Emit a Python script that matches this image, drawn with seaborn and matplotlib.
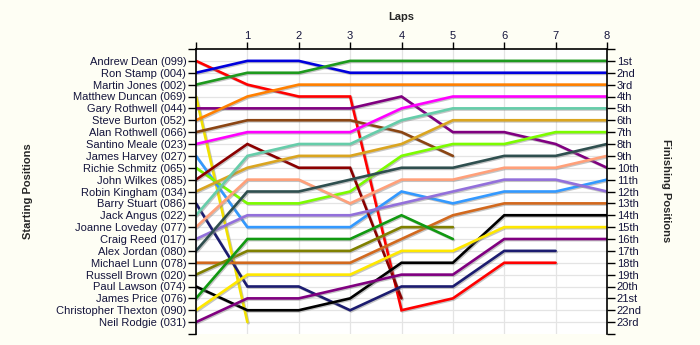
import matplotlib
matplotlib.use("Agg")
import matplotlib.pyplot as plt
import matplotlib.patheffects as pe
import seaborn as sns
import pandas as pd

# ---- data ----
drivers = ["Andrew Dean (099)", "Ron Stamp (004)", "Martin Jones (002)", "Matthew Duncan (069)",
           "Gary Rothwell (044)", "Steve Burton (052)", "Alan Rothwell (066)", "Santino Meale (023)",
           "James Harvey (027)", "Richie Schmitz (065)", "John Wilkes (085)", "Robin Kingham (034)",
           "Barry Stuart (086)", "Jack Angus (022)", "Joanne Loveday (077)", "Craig Reed (017)",
           "Alex Jordan (080)", "Michael Lunn (078)", "Russell Brown (020)", "Paul Lawson (074)",
           "James Price (076)", "Christopher Thexton (090)", "Neil Rodgie (031)"]

dean = [1, 3, 4, 4, 22, 21, 18, 18]
stamp = [2, 1, 1, 2, 2, 2, 2, 2, 2]
jones = [3, 2, 2, 1, 1, 1, 1, 1, 1]
duncan = [4, 23]
g_rothwell = [5, 5, 5, 5, 4, 7, 7, 8, 10]
burton = [6, 4, 3, 3, 3, 3, 3, 3, 3]
a_rothwell = [7, 6, 6, 6, 7, 9]
meale = [8, 7, 7, 7, 5, 4, 4, 4, 4]
harvey = [9, 15, 15, 15, 12, 13, 12, 12, 11]
schmitz = [10, 13, 13, 12, 9, 8, 8, 7, 7]
wilkes = [11, 8, 10, 10, 21]
kingham = [12, 10, 9, 9, 8, 6, 6, 6, 6]
stuart = [13, 20, 20, 22, 20, 20, 17, 17]
angus = [14, 9, 8, 8, 6, 5, 5, 5, 5]
loveday = [15, 11, 11, 13, 11, 11, 10, 10, 9]
reed = [16, 14, 14, 14, 13, 12, 11, 11, 12]
jordan = [17, 12, 12, 11, 10, 10, 9, 9, 8]
lunn = [18, 18, 18, 18, 16, 14, 13, 13, 13]
brown = [19, 17, 17, 17, 15, 15]
lawson = [20, 22, 22, 21, 18, 18, 14, 14, 14]
price = [21, 16, 16, 16, 14, 16]
thexton = [22, 19, 19, 19, 17, 17, 15, 15, 15]
rodgie = [23, 21, 21, 20, 19, 19, 16, 16, 16]

series = [dean, stamp, jones, duncan, g_rothwell, burton, a_rothwell, meale, harvey, schmitz,
          wilkes, kingham, stuart, angus, loveday, reed, jordan, lunn, brown, lawson, price,
          thexton, rodgie]

colors = ["#FF0000", "#0000DD", "#1E9A1E", "#F0E000", "#800080", "#FF8000", "#8B4513", "#FF00FF",
          "#3399FF", "#7CFC00", "#8B0000", "#DAA520", "#1C1C70", "#66CDAA", "#FFA07A", "#9370DB",
          "#2F4F4F", "#D2691E", "#808000", "#000000", "#119911", "#FFE800", "#800080"]

lap_labels = ["", "1", "2", "3", "4", "5", "6", "7", "8"]
finish_labels = ["1st", "2nd", "3rd", "4th", "5th", "6th", "7th", "8th", "9th", "10th", "11th",
                 "12th", "13th", "14th", "15th", "16th", "17th", "18th", "19th", "20th", "21st",
                 "22nd", "23rd"]

rows = []
for name, pos in zip(drivers, series):
    for lap, p in enumerate(pos):
        rows.append({"driver": name, "lap": lap, "pos": p})
df = pd.DataFrame(rows)

# ---- plot ----
sns.set_style("white")
plt.rcParams["font.family"] = ["Liberation Sans", "DejaVu Sans"]

fig = plt.figure(figsize=(7.0, 3.45), dpi=100, facecolor="#FEFEF4")
ax = fig.add_axes([196 / 700, 1 - 334 / 345, (607 - 196) / 700, (334 - 49) / 345])
ax.set_facecolor("white")

sns.lineplot(data=df, x="lap", y="pos", hue="driver", hue_order=drivers,
             palette=colors, sort=False, estimator=None, linewidth=1.9,
             legend=False, ax=ax)
for ln in ax.lines:
    ln.set_path_effects([pe.SimpleLineShadow(offset=(0.8, -0.8), shadow_color="gray", alpha=0.45),
                         pe.Normal()])
    ln.set_solid_joinstyle("miter")

ax.set_xlabel("")
ax.set_ylabel("")
ax.set_xlim(0, 8)
ax.set_ylim(24, 0)
ax.set_xticks(range(9))
ax.set_xticklabels(lap_labels)
ax.xaxis.tick_top()
ax.set_yticks(range(1, 24))
ax.set_yticklabels(drivers)
ax.set_yticks([0, 24], minor=True)

ax.grid(True, color="#E4E4E4", linewidth=0.9)
ax.set_axisbelow(True)
for s in ["bottom", "right"]:
    ax.spines[s].set_visible(False)
for s in ["top", "left"]:
    ax.spines[s].set_color("black")
    ax.spines[s].set_linewidth(1.2)

txtcol = "#14143C"
ax.tick_params(axis="y", which="both", left=True, length=6, width=1, pad=1,
               labelsize=8, labelcolor=txtcol, color="black")
ax.tick_params(axis="x", top=True, bottom=False, length=5, width=1, pad=1,
               labelsize=8, labelcolor=txtcol, color="black")

ax2 = ax.twinx()
ax2.set_ylim(24, 0)
ax2.set_yticks(range(1, 24))
ax2.set_yticklabels(finish_labels)
ax2.set_yticks([0, 24], minor=True)
ax2.set_ylabel("")
for s in ["top", "bottom", "left"]:
    ax2.spines[s].set_visible(False)
ax2.spines["right"].set_color("black")
ax2.spines["right"].set_linewidth(1.2)
ax2.tick_params(axis="y", which="both", right=True, length=6, width=1, pad=1,
                labelsize=8, labelcolor=txtcol, color="black")

fig.text(401.5 / 700, 1 - 17 / 345, "Laps", ha="center", va="center",
         fontsize=8, fontweight="bold")
fig.text(28 / 700, 1 - 191 / 345, "Starting Positions", ha="center", va="center",
         rotation=90, fontsize=8, fontweight="bold")
fig.text(666 / 700, 1 - 191 / 345, "Finishing Positions", ha="center", va="center",
         rotation=-90, fontsize=8, fontweight="bold")

fig.savefig("out.png", dpi=100, facecolor=fig.get_facecolor())
